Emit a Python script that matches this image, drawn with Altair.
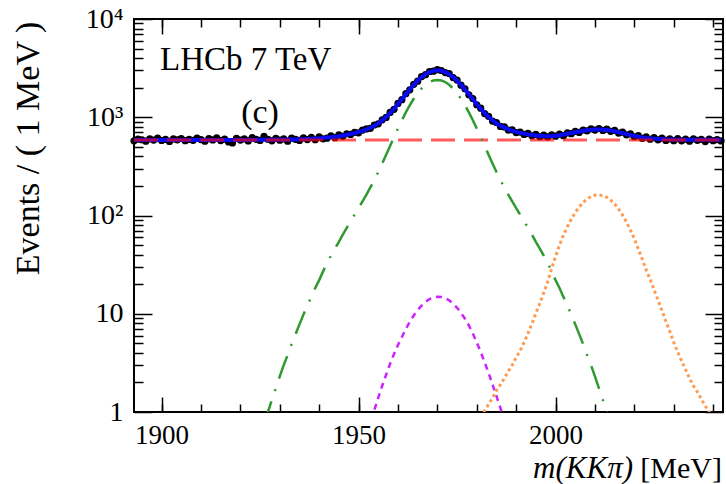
import altair as alt
import pandas as pd

FONT = "Liberation Serif"

# ---------------- data ----------------
X_DOMAIN = [1893, 2042.5]
Y_DOMAIN = [1, 10000]

DATA_MASS = list(range(1893, 2043))
DATA_EVENTS = [
    575, 598, 590, 571, 603, 586, 612, 580, 594, 567, 601, 589, 608, 577, 596, 583,
    614, 592, 570, 605, 588, 617, 579, 598, 560, 548, 611, 586, 603, 574, 622, 596, 581,
    640, 597, 575, 609, 584, 603, 570, 612, 596, 581, 618, 592, 625, 590, 631, 603,
    612, 648, 620, 661, 640, 679, 668, 702, 695, 741, 760, 771, 834, 858, 942, 996,
    1120, 1205, 1383, 1510, 1738, 1902, 2165, 2331, 2597, 2712, 2921, 2946, 3046,
    2990, 2850, 2781, 2536, 2390, 2118, 1950, 1692, 1549, 1340, 1237, 1089, 1021,
    915, 884, 806, 797, 741, 744, 698, 707, 668, 684, 648, 671, 633, 659, 630, 662,
    641, 672, 650, 693, 681, 719, 700, 742, 728, 763, 740, 768, 735, 757, 719, 736,
    691, 705, 662, 676, 633, 650, 610, 631, 597, 620, 589, 614, 581, 603, 578, 607,
    575, 598, 571, 604, 583, 596, 566, 600, 578, 592, 574,
]

FIT_MASS = [1893, 1900, 1910, 1920] + list(range(1926, 2043))
FIT_EVENTS = [588, 588, 588, 588] + [
    589, 589, 589, 590, 590, 591, 592, 593, 594, 596, 598, 600, 603, 606, 610, 615,
    621, 627, 634, 642, 652, 663, 676, 690, 707, 727, 752, 782, 819, 866, 928, 1006,
    1102, 1221, 1361, 1526, 1714, 1921, 2139, 2358, 2564, 2743, 2883, 2973, 3003,
    2973, 2883, 2744, 2565, 2359, 2139, 1922, 1715, 1526, 1361, 1222, 1103, 1008,
    929, 868, 821, 784, 754, 730, 711, 694, 681, 669, 660, 652, 647, 643, 642, 645,
    649, 656, 666, 677, 690, 703, 716, 729, 739, 747, 751, 752, 748, 742, 732, 719,
    704, 689, 674, 659, 646, 634, 624, 616, 611, 606, 602, 599, 596, 595, 593, 592,
    591, 591, 590, 590, 590, 589, 589, 589, 589, 589, 588,
]

BKG_MASS = [1893, 1950, 2000, 2042.5]
BKG_EVENTS = [588, 588, 588, 588]

SIG_MASS = list(range(1926, 2015))
SIG_EVENTS = [
    0.75, 1.0, 1.33, 1.75, 2.3, 3.0, 3.8, 4.9, 6.2, 7.8, 9.8, 12.1, 14.8, 18.3, 22,
    27, 33, 39, 46, 54, 64, 75, 88, 102, 119, 139, 163, 193, 230, 277, 338, 416, 511,
    629, 768, 932, 1119, 1325, 1541, 1759, 1964, 2142, 2281, 2370, 2400, 2370, 2281,
    2142, 1964, 1759, 1541, 1325, 1119, 932, 768, 629, 511, 416, 338, 277, 230, 193,
    163, 139, 119, 102, 88, 75, 64, 54, 46, 39, 33, 27, 22, 18.3, 14.8, 12.1, 9.8,
    7.8, 6.2, 4.9, 3.8, 3.0, 2.3, 1.75, 1.33, 1.0, 0.75,
]

REFL_MASS = list(range(1952, 1989))
REFL_EVENTS = [
    0.5, 0.75, 1.05, 1.4, 1.85, 2.4, 3.1, 3.9, 4.8, 5.8, 7.0, 8.3, 9.6, 10.9, 12.1,
    13.2, 14.1, 14.6, 14.9, 14.8, 14.4, 13.7, 12.7, 11.5, 10.2, 8.9, 7.6, 6.3, 5.1,
    4.1, 3.2, 2.5, 1.9, 1.45, 1.1, 0.8, 0.6,
]

DST_MASS = list(range(1981, 2042))
DST_EVENTS = [
    0.88, 1.03, 1.2, 1.4, 1.65, 1.9, 2.2, 2.6, 3.0, 3.6, 4.2, 5.1, 6.3, 7.9, 10.1,
    12.8, 16.3, 21.2, 28.8, 38.5, 50, 63, 77, 92, 107.5, 122, 136, 147, 156, 161, 162,
    159, 153, 143, 131, 116, 101, 86, 71, 58, 45.5, 36, 28, 22.5, 17.5, 13.8, 10.8,
    8.4, 6.6, 5.1, 4.1, 3.3, 2.7, 2.2, 1.85, 1.6, 1.35, 1.15, 1.0, 0.85, 0.72,
]

Y_MAJOR = [1, 10, 100, 1000, 10000]
Y_MINOR = [2, 3, 4, 5, 6, 7, 8, 9, 20, 30, 40, 50, 60, 70, 80, 90,
           200, 300, 400, 500, 600, 700, 800, 900,
           2000, 3000, 4000, 5000, 6000, 7000, 8000, 9000]
X_MAJOR = [1900, 1950, 2000]
X_MINOR = [1900, 1910, 1920, 1930, 1940, 1950, 1960, 1970, 1980, 1990,
           2000, 2010, 2020, 2030, 2040]

# ---------------- chart ----------------
df_data = pd.DataFrame({"x": DATA_MASS, "y": DATA_EVENTS})
df_fit = pd.DataFrame({"x": FIT_MASS, "y": FIT_EVENTS})
df_bkg = pd.DataFrame({"x": BKG_MASS, "y": BKG_EVENTS})
df_sig = pd.DataFrame({"x": SIG_MASS, "y": SIG_EVENTS})
df_refl = pd.DataFrame({"x": REFL_MASS, "y": REFL_EVENTS})
df_dst = pd.DataFrame({"x": DST_MASS, "y": DST_EVENTS})

x_scale = alt.Scale(domain=X_DOMAIN, nice=False, zero=False)
y_scale = alt.Scale(type="log", domain=Y_DOMAIN, nice=False)


def xe(axis):
    return alt.X("x:Q", scale=x_scale, axis=axis)


def ye(axis):
    return alt.Y("y:Q", scale=y_scale, axis=axis)


def tick_axis(orient, values, size, **kw):
    opts = dict(orient=orient, values=values, tickSize=size, offset=-size,
                domain=False, grid=False, tickColor="black", tickWidth=1.5,
                labels=False, title=None)
    opts.update(kw)
    return alt.Axis(**opts)


label_expr = ("datum.value >= 10000 ? '10⁴' : datum.value >= 1000 ? '10³' : "
              "datum.value >= 100 ? '10²' : datum.value >= 10 ? '10' : '1'")

ax_x_major = tick_axis("bottom", X_MAJOR, 15, labels=True, format="d",
                       labelFont=FONT, labelFontSize=27, labelColor="black",
                       labelPadding=10, labelFlush=False)
ax_y_major = tick_axis("left", Y_MAJOR, 18, labels=True, labelExpr=label_expr,
                       labelFont=FONT, labelFontSize=28, labelColor="black",
                       labelPadding=11, labelFlush=False,
                       title="Events / ( 1 MeV )", titleFont=FONT,
                       titleFontSize=34, titleFontWeight="normal",
                       titleColor="black", titleX=-124, titleY=129,
                       titleAngle=270, titleAlign="center",
                       titleBaseline="middle")

points = alt.Chart(df_data).mark_circle(size=52, color="black", opacity=1).encode(
    x=xe(ax_x_major), y=ye(ax_y_major))

hidden = alt.Chart(df_data).mark_point(opacity=0)
axes_minor = hidden.encode(x=xe(tick_axis("bottom", X_MINOR, 8)),
                           y=ye(tick_axis("left", Y_MINOR, 9)))
axes_opp_major = hidden.encode(x=xe(tick_axis("top", X_MAJOR, 15)),
                               y=ye(tick_axis("right", Y_MAJOR, 18)))
axes_opp_minor = hidden.encode(x=xe(tick_axis("top", X_MINOR, 8)),
                               y=ye(tick_axis("right", Y_MINOR, 9)))


def curve(df, **style):
    return alt.Chart(df).mark_line(clip=True, **style).encode(
        x=xe(None), y=ye(None))


fit = curve(df_fit, color="#0a0af0", strokeWidth=4)
bkg = curve(df_bkg, color="#ff0000", strokeWidth=3, strokeDash=[24, 9],
            strokeOpacity=0.65)
sig = curve(df_sig, color="#2f9a2f", strokeWidth=2.5, strokeDash=[24, 11, 2, 11])
refl = curve(df_refl, color="#cc22ff", strokeWidth=2.5, strokeDash=[6, 5])
dst = curve(df_dst, color="#ff9a50", strokeWidth=3, strokeDash=[3, 3])


def label(text, x, y, size, align="left", style="normal"):
    return alt.Chart(pd.DataFrame({"t": [text]})).mark_text(
        font=FONT, fontSize=size, align=align, baseline="alphabetic",
        fontStyle=style, color="black").encode(
        text="t:N", x=alt.value(x), y=alt.value(y))


texts = [
    label("LHCb 7 TeV", 26, 51, 33),
    label("(c)", 126, 104, 34, align="center"),
    label("[MeV]", 588, 459, 30, align="right"),
    label("m(KKπ)", 499, 459, 31, align="right", style="italic"),
]

chart = alt.layer(points, axes_minor, axes_opp_major, axes_opp_minor,
                  fit, bkg, sig, refl, dst, *texts).resolve_axis(
    x="independent", y="independent").properties(
    width=589, height=393,
    padding={"left": 134, "top": 19, "right": 3, "bottom": 72},
    autosize=alt.AutoSizeParams(type="none"),
    background="white",
).configure_view(stroke="black", strokeWidth=2)

chart.save("out.html", embed_options={"renderer": "svg", "actions": False})
